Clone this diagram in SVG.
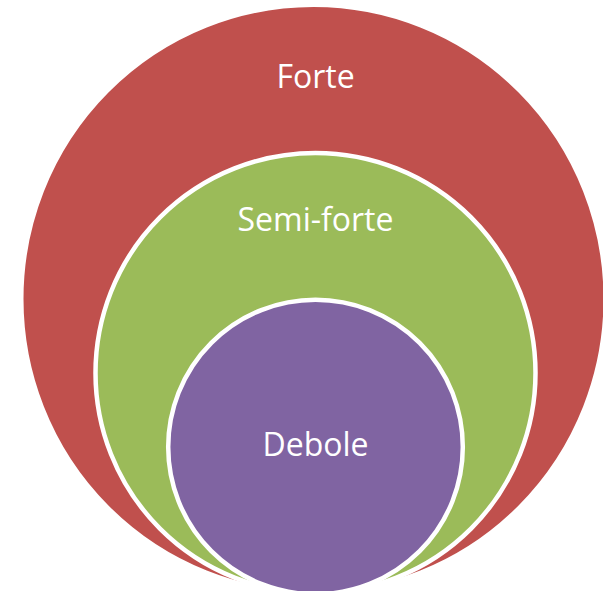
<svg xmlns="http://www.w3.org/2000/svg" width="603" height="591" viewBox="0 0 603 591">
  <style>
    .ring { stroke: #FFFFFF; stroke-width: 4.5; }
    .label { font-family: "Open Sans", "Liberation Sans", sans-serif; font-size: 32px; fill: #FFFFFF; text-anchor: middle; }
  </style>
  <rect width="603" height="591" fill="#FFFFFF"/>
  <g id="forte">
    <ellipse class="ring" cx="313.5" cy="299" rx="292.25" ry="294.25" fill="#C0504D"/>
    <text class="label" x="315.5" y="88.3">Forte</text>
  </g>
  <g id="semi-forte">
    <circle class="ring" cx="315.5" cy="373" r="220" fill="#9BBB59"/>
    <text class="label" x="315.5" y="230.7">Semi-forte</text>
  </g>
  <g id="debole">
    <circle class="ring" cx="315.5" cy="447" r="147.3" fill="#8064A2"/>
    <text class="label" x="315.5" y="455.7">Debole</text>
  </g>
</svg>
